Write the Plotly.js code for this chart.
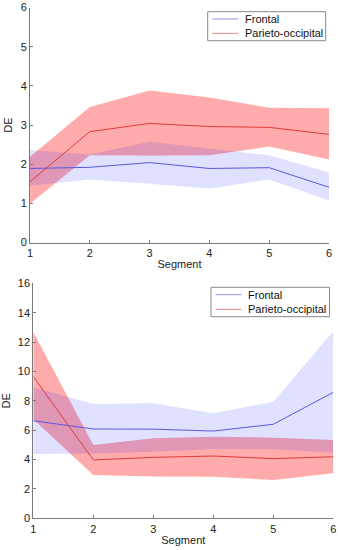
<!DOCTYPE html>
<html>
<head>
<meta charset="utf-8">
<script src="https://cdn.plot.ly/plotly-3.0.1.min.js"></script>
<style>html,body{margin:0;padding:0;background:#fff;}#chart{width:338px;height:550px;}</style>
</head>
<body>
<div id="chart"></div>
<script>
// ---- data ----
var segments = [1, 2, 3, 4, 5, 6];
var seriesNames = ["Frontal", "Parieto-occipital"];

// Top panel
var topFrontalMean  = [1.89, 1.92, 2.04, 1.89, 1.91, 1.41];
var topFrontalUpper = [2.36, 2.25, 2.57, 2.40, 2.23, 1.79];
var topFrontalLower = [1.45, 1.61, 1.50, 1.38, 1.61, 1.07];
var topParietoMean  = [1.55, 2.83, 3.04, 2.96, 2.94, 2.76];
var topParietoUpper = [2.19, 3.46, 3.88, 3.70, 3.44, 3.43];
var topParietoLower = [0.99, 2.23, 2.22, 2.23, 2.45, 2.12];

// Bottom panel
var botFrontalMean  = [6.64, 6.08, 6.07, 5.94, 6.40, 8.58];
var botFrontalUpper = [8.92, 7.78, 7.83, 7.15, 7.94, 12.73];
var botFrontalLower = [4.38, 4.42, 4.53, 4.72, 4.70, 4.47];
var botParietoMean  = [9.65, 3.97, 4.15, 4.24, 4.06, 4.19];
var botParietoUpper = [12.69, 4.99, 5.45, 5.56, 5.49, 5.33];
var botParietoLower = [6.75, 2.95, 2.84, 2.83, 2.61, 3.07];

// ---- styles ----
var W = 338, H = 550;
var blueLine = '#5858dc', redLine = '#e03a3a';
var blueFill = 'rgba(0,0,255,0.12)', redFill = 'rgba(255,0,0,0.33)';
var legColors = ['#a8a8e8', '#ee9a9a'];
var font = 'Liberation Sans, Arial, sans-serif';

function band(upper, lower, color, xa, ya) {
  return {
    x: segments.concat(segments.slice().reverse()),
    y: upper.concat(lower.slice().reverse()),
    fill: 'toself', fillcolor: color, mode: 'lines', line: {width: 0},
    hoverinfo: 'skip', showlegend: false, xaxis: xa, yaxis: ya
  };
}
function line(y, color, name, xa, ya) {
  return {x: segments, y: y, mode: 'lines', name: name, line: {color: color, width: 1},
          showlegend: false, xaxis: xa, yaxis: ya};
}

var traces = [
  band(topParietoUpper, topParietoLower, redFill, 'x', 'y'),
  band(topFrontalUpper, topFrontalLower, blueFill, 'x', 'y'),
  line(topFrontalMean, blueLine, seriesNames[0], 'x', 'y'),
  line(topParietoMean, redLine, seriesNames[1], 'x', 'y'),
  band(botParietoUpper, botParietoLower, redFill, 'x2', 'y2'),
  band(botFrontalUpper, botFrontalLower, blueFill, 'x2', 'y2'),
  line(botFrontalMean, blueLine, seriesNames[0], 'x2', 'y2'),
  line(botParietoMean, redLine, seriesNames[1], 'x2', 'y2')
];

function xaxis(domain, anchor) {
  return {
    domain: domain, anchor: anchor, range: [1, 6], tickvals: segments,
    showline: true, linecolor: '#7a7a7a', linewidth: 1, ticks: 'inside', ticklen: 3,
    tickcolor: '#7a7a7a', showgrid: false, zeroline: false,
    tickfont: {family: font, size: 11, color: '#222'},
    title: {text: 'Segment', font: {family: font, size: 11, color: '#222'}, standoff: 2}
  };
}
function yaxis(domain, anchor, range, dtick) {
  return {
    domain: domain, anchor: anchor, range: range, dtick: dtick, tick0: 0,
    showline: true, linecolor: '#7a7a7a', linewidth: 1, ticks: 'inside', ticklen: 3,
    tickcolor: '#7a7a7a', showgrid: false, zeroline: false,
    tickfont: {family: font, size: 11, color: '#222'},
    title: {text: 'DE', font: {family: font, size: 11, color: '#222'}, standoff: 5}
  };
}

// Legend boxes (MATLAB-style), built from shapes + text annotations
var shapes = [], annotations = [];
function px(x) { return x / W; }
function py(y) { return 1 - y / H; }
function addLegend(left, top, right, bottom) {
  shapes.push({type: 'rect', xref: 'paper', yref: 'paper',
    x0: px(left), x1: px(right), y0: py(bottom), y1: py(top),
    line: {color: '#888', width: 1}, fillcolor: '#fff', layer: 'above'});
  var rowH = (bottom - top) / 2;
  seriesNames.forEach(function (name, i) {
    var yc = top + rowH * (i + 0.5);
    shapes.push({type: 'line', xref: 'paper', yref: 'paper',
      x0: px(left + 4.5), x1: px(left + 30.5), y0: py(yc), y1: py(yc),
      line: {color: legColors[i], width: 1.2}, layer: 'above'});
    annotations.push({xref: 'paper', yref: 'paper', x: px(left + 35), y: py(yc),
      xanchor: 'left', yanchor: 'middle', showarrow: false, text: name,
      font: {family: font, size: 11, color: '#111'}});
  });
}
addLegend(207.7, 11.7, 325.7, 40.7);
addLegend(211, 287.3, 329.5, 316.7);

var layout = {
  width: W, height: H,
  margin: {l: 0, r: 0, t: 0, b: 0},
  paper_bgcolor: '#fff', plot_bgcolor: '#fff',
  showlegend: false,
  xaxis: xaxis([30/W, 329/W], 'y'),
  yaxis: yaxis([1 - 242.5/H, 1 - 7.5/H], 'x', [0, 6], 1),
  xaxis2: xaxis([33.3/W, 333.3/W], 'y2'),
  yaxis2: yaxis([1 - 518.3/H, 1 - 283.3/H], 'x2', [0, 16], 2),
  shapes: shapes,
  annotations: annotations
};

Plotly.newPlot('chart', traces, layout, {displayModeBar: false, staticPlot: true});
</script>
</body>
</html>
